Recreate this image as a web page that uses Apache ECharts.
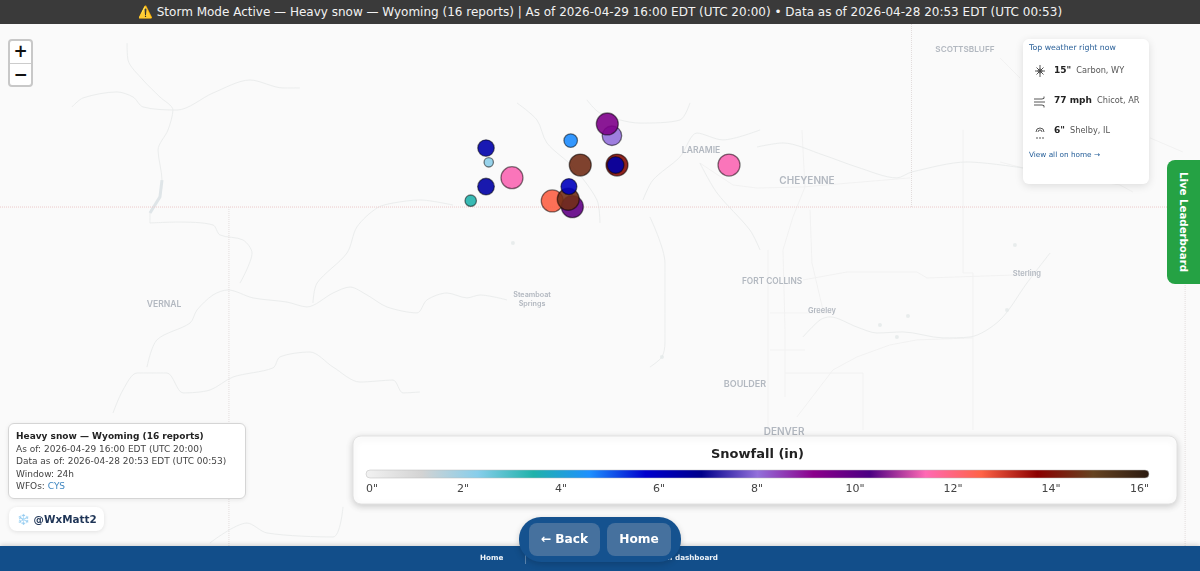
<!DOCTYPE html>
<html>
<head>
<meta charset="utf-8">
<title>Heavy snow - Wyoming</title>
<script src="https://cdn.jsdelivr.net/npm/echarts@6/dist/echarts.min.js"></script>
<style>
	html, body { margin: 0; padding: 0; width: 1200px; height: 571px; overflow: hidden; background: #fafafa; font-family: "DejaVu Sans", sans-serif; }
	#map { position: absolute; left: 0; top: 0; width: 1200px; height: 571px; }
	.banner { position: absolute; left: 0; top: 0; width: 1200px; height: 24px; line-height: 24px; background: #3a3a3a; color: #f2f2f2; font-size: 12px; text-align: center; white-space: nowrap; }
	.zoom { position: absolute; left: 8px; top: 39px; width: 21px; height: 44px; border: 2px solid #c8c8c8; border-radius: 4px; background: #fff; }
	.zoom div { height: 22px; line-height: 21px; text-align: center; font-size: 17px; font-weight: bold; color: #111; }
	.zoom div + div { height: 21px; border-top: 1px solid #ccc; }
	.info { position: absolute; left: 8px; top: 423px; width: 221px; height: 63px; padding: 6px 8px 5px 7px; background: #fff; border: 1px solid #d5d5d5; border-radius: 6px; box-shadow: 0 1px 4px rgba(0,0,0,.08); font-size: 9px; line-height: 12.5px; color: #444; white-space: nowrap; }
	.info b { color: #222; }
	.info a { color: #3f86c0; }
	.handle { position: absolute; left: 9px; top: 507px; width: 95px; height: 24px; line-height: 24px; background: #fff; border-radius: 8px; box-shadow: 0 1px 4px rgba(0,0,0,.1); font-size: 10.4px; font-weight: bold; color: #1f3557; white-space: nowrap; text-indent: 8px; }
	.handle span { color: #9fd0ee; }
	.topbox { position: absolute; left: 1023px; top: 39px; width: 126px; height: 145px; background: #fff; border-radius: 6px; box-shadow: 0 2px 8px rgba(0,0,0,.12); color: #222; white-space: nowrap; }
	.topbox .head { position: absolute; left: 6px; top: 4px; font-size: 7.8px; color: #2a6099; }
	.topbox .row { position: absolute; left: 31px; font-size: 9px; font-weight: bold; }
	.topbox .row span { font-size: 8.2px; font-weight: normal; color: #555; margin-left: 2px; }
	.topbox svg { position: absolute; left: 10px; width: 14px; height: 16px; fill: none; stroke: #444; stroke-width: .9; }
	.topbox .more { position: absolute; left: 6px; top: 111px; font-size: 7.3px; color: #1f5a96; }
	.live { position: absolute; left: 1167px; top: 160px; width: 33px; height: 124px; background: #25a244; border-radius: 8px 0 0 8px; color: #fff; font-size: 10.2px; font-weight: bold; writing-mode: vertical-rl; text-align: center; line-height: 34px; white-space: nowrap; }
	.footer { position: absolute; left: 0; top: 546px; width: 1200px; height: 25px; background: #124e8a; box-shadow: 0 -1px 5px rgba(0,0,0,.18); color: #eef3f8; font-size: 7.2px; font-weight: bold; }
	.footer span { position: absolute; top: 7px; white-space: nowrap; }
	.footer i { position: absolute; left: 525px; top: 7px; width: 1px; height: 11px; background: #5a84ae; }
	.nav { position: absolute; left: 519px; top: 517px; width: 162px; height: 45px; background: #15528f; border-radius: 22px; box-shadow: 0 2px 6px rgba(0,0,0,.18); }
	.nav div { position: absolute; top: 6px; height: 33px; line-height: 33px; background: #46719e; border-radius: 8px; color: #fff; font-size: 12.2px; font-weight: bold; text-align: center; }
</style>
</head>
<body>
<div id="map"></div>
<div class="banner">⚠️ Storm Mode Active — Heavy snow — Wyoming (16 reports) | As of 2026-04-29 16:00 EDT (UTC 20:00) • Data as of 2026-04-28 20:53 EDT (UTC 00:53)</div>
<div class="zoom"><div>+</div><div>−</div></div>
<div class="info"><b>Heavy snow — Wyoming (16 reports)</b><br>As of: 2026-04-29 16:00 EDT (UTC 20:00)<br>Data as of: 2026-04-28 20:53 EDT (UTC 00:53)<br>Window: 24h<br>WFOs: <a>CYS</a></div>
<div class="handle"><span>❄️</span> @WxMatt2</div>
<div class="topbox">
	<div class="head">Top weather right now</div>
	<svg style="top:24px" viewBox="0 0 14 16"><path d="M7 2v12M2 8h10M3.500 4.500l7 7M10.500 4.500l-7 7M5 8a2 2 0 1 0 4 0a2 2 0 1 0-4 0"/></svg>
	<div class="row" style="top:26px">15" <span>Carbon, WY</span></div>
	<svg style="top:55px" viewBox="0 0 14 16"><path d="M1 5h8q3 0 2-2.500M1 8h11M1 11h8q3 0 2 2.500"/></svg>
	<div class="row" style="top:56px">77 mph <span>Chicot, AR</span></div>
	<svg style="top:85px" viewBox="0 0 14 16"><path d="M3 8a4 4 0 0 1 8 0M5 8a2 2 0 0 1 4 0M4 13v2M7 13v2M10 13v2"/></svg>
	<div class="row" style="top:86px">6" <span>Shelby, IL</span></div>
	<div class="more">View all on home →</div>
</div>
<div class="live">Live Leaderboard</div>
<div class="footer"><span style="left:480px">Home</span><i></i><span style="right:482px">Admin dashboard</span></div>
<div class="nav"><div style="left:10px;width:71px">← Back</div><div style="left:88px;width:64px">Home</div></div>

<script>
// snow reports, in drawing order: longitude, latitude, inches
const reportLon = [-107.168, -107.148, -107.168, -107.280, -106.978, -106.548, -106.478, -106.209, -106.219, -106.246, -106.280, -105.389, -106.683, -106.536, -106.566, -106.561];
const reportLat = [41.326, 41.247, 41.113, 41.035, 41.162, 41.367, 41.232, 41.232, 41.232, 41.394, 41.459, 41.232, 41.034, 41.002, 41.043, 41.113];
const reportInches = [6.3, 2.2, 6.4, 3.4, 11.4, 4.6, 14.5, 13.9, 6.4, 8, 9.4, 11.4, 12.6, 9.9, 14.5, 6];

// snowfall colour scale, evenly spread from 0 to 16 inches
const legendColors = ['#f2f2f2', '#d3d3d3', '#87ceeb', '#20b2aa', '#1e90ff', '#0000cd', '#00008b', '#9370db', '#8b008b', '#4b0082', '#ff69b4', '#ff6347', '#8b0000', '#654321', '#2b1a10'];
const legendTicks = ['0"', '2"', '4"', '6"', '8"', '10"', '12"', '14"', '16"'];
const legendTickX = [366, 463, 561, 659, 757, 855, 953, 1051, 1149];

const cityNames = ['SCOTTSBLUFF', 'LARAMIE', 'CHEYENNE', 'VERNAL', 'Steamboat\nSprings', 'FORT COLLINS', 'Greeley', 'Sterling', 'BOULDER', 'DENVER'];
const cityLon = [-103.662, -105.594, -104.818, -109.525, -106.831, -105.074, -104.709, -103.208, -105.272, -104.986];
const cityLat = [41.868, 41.315, 41.144, 40.464, 40.492, 40.591, 40.426, 40.630, 40.022, 39.757];
const cityFontSize = [8.2, 8.6, 10, 8.6, 7.2, 8.3, 7.5, 7.5, 9, 10];

const lakeLon = [-104.284, -104.079, -104.160, -103.296, -105.880, -103.354, -106.971];
const lakeLat = [40.348, 40.398, 40.282, 40.790, 40.172, 40.431, 40.801];

// state lines
const wyColoradoLine = [[-110.726, 41], [-101.941, 41]];
const utahColoradoLine = [[-109.05, 41], [-109.05, 38.989]];
const wyNebraskaLine = [[-104.053, 42.144], [-104.053, 41]];
const coNebraskaLine = [[-102.05, 41], [-102.05, 38.989]];

// rivers
const yampaRiver = [[-109.650, 40.116], [-109.577, 40.266], [-109.335, 40.359], [-109.284, 40.431], [-109.167, 40.514], [-109.057, 40.542], [-108.874, 40.498], [-108.625, 40.475], [-108.479, 40.448], [-108.288, 40.525], [-108.164, 40.558], [-108.039, 40.514], [-107.893, 40.448], [-107.673, 40.415], [-107.600, 40.487], [-107.454, 40.525], [-107.307, 40.498], [-107.212, 40.514], [-107.015, 40.487]];
const whiteRiver = [[-109.899, 39.862], [-109.826, 39.989], [-109.723, 40.083], [-109.504, 40.083], [-109.386, 39.973], [-109.189, 39.989], [-109.020, 40.061], [-108.728, 40.111], [-108.676, 40.172], [-108.457, 40.199], [-108.288, 40.116], [-108.091, 40.033], [-107.849, 40.044], [-107.776, 39.973], [-107.652, 39.978]];
const littleSnakeRiver = [[-108.435, 40.470], [-108.405, 40.580], [-108.186, 40.746], [-108.113, 40.890], [-107.966, 40.995], [-107.849, 41.022], [-107.652, 41.039], [-107.410, 41.011]];
const greenRiver = [[-109.796, 41.906], [-109.789, 41.813], [-109.679, 41.702], [-109.555, 41.608], [-109.460, 41.536], [-109.496, 41.426], [-109.569, 41.315], [-109.540, 41.149], [-109.555, 41.056], [-109.628, 40.967], [-109.628, 40.912], [-109.430, 40.917], [-109.167, 40.901], [-109.116, 40.846], [-108.947, 40.818], [-108.881, 40.746], [-108.969, 40.580]];
const sweetwaterDraw = [[-110.199, 41.553], [-110.118, 41.603], [-109.870, 41.636], [-109.752, 41.608], [-109.679, 41.553], [-109.430, 41.536], [-109.167, 41.630], [-108.896, 41.702], [-108.654, 41.658], [-108.530, 41.658]];
const northPlatte = [[-106.941, 41.575], [-106.795, 41.481], [-106.722, 41.354], [-106.531, 41.221], [-106.356, 41.039], [-106.334, 40.912]];
const medicineBow = [[-106.429, 41.592], [-106.334, 41.520], [-106.041, 41.464], [-105.748, 41.481], [-105.675, 41.575]];
const laramieRiver = [[-105.162, 41.426], [-105.433, 41.371], [-105.624, 41.409], [-105.748, 41.277], [-105.946, 41.149], [-106.019, 41.039]];
const lodgepoleCreek = [[-105.184, 41.332], [-104.994, 41.354], [-104.701, 41.288], [-104.452, 41.221], [-104.160, 41.161], [-104.050, 41.194], [-103.647, 41.249], [-103.237, 41.216]];
const poudreRiver = [[-105.602, 41.243], [-105.477, 41.078], [-105.236, 40.873], [-105.162, 40.763]];
const southPlatte = [[-104.848, 40.282], [-104.723, 40.376], [-104.650, 40.393], [-104.452, 40.337], [-104.306, 40.304], [-104.116, 40.310], [-103.823, 40.277], [-103.625, 40.282], [-103.405, 40.376], [-103.208, 40.580], [-103.039, 40.746]];
const parkRiver = [[-105.968, 40.945], [-105.858, 40.691], [-105.858, 40.249], [-105.880, 40.172], [-105.968, 40.116]];
const southernDrain = [[-109.189, 39.144], [-108.918, 39.254], [-108.771, 39.199], [-108.288, 39.177], [-108.215, 39.343]];
const flamingGorge = [[-109.540, 41.149], [-109.555, 41.056], [-109.628, 40.967]];

// highways
const i25 = [[-104.855, 41.426], [-104.833, 41.111], [-104.921, 40.945], [-104.994, 40.763], [-104.979, 40.321], [-104.979, 39.951]];
const i80 = [[-105.602, 41.243], [-105.360, 41.122], [-105.184, 41.105], [-104.848, 41.111], [-104.064, 41.161]];
const i76 = [[-104.892, 39.840], [-104.628, 40.100], [-104.452, 40.172], [-104.211, 40.238], [-104.013, 40.266], [-103.603, 40.277]];
const us34 = [[-104.848, 40.597], [-104.526, 40.641], [-104.013, 40.641], [-103.940, 40.608], [-103.281, 40.625]];
const us85 = [[-104.796, 40.984], [-104.782, 40.691], [-104.701, 40.431]];
const countyRoad = [[-103.676, 41.426], [-103.676, 40.636], [-103.603, 40.636], [-103.603, 39.768]];
const panhandleRoad = [[-103.405, 41.824], [-103.259, 41.713]];
const panhandleRoad2 = [[-102.307, 41.382], [-102.066, 41.304]];
const panhandleRoad3 = [[-103.405, 41.249], [-103.237, 41.216], [-102.527, 41.122], [-102.432, 41.083]];
const frontRangeWest = [[-105.104, 40.763], [-105.104, 39.768]];
const frontRangeNorth = [[-105.089, 40.415], [-104.613, 40.415]];
const frontRangeSouth = [[-105.089, 40.210], [-104.833, 40.210]];
const denverBox = [[-104.979, 40.083], [-104.408, 40.083], [-104.408, 39.768]];

const stateLines = [wyColoradoLine, wyNebraskaLine, utahColoradoLine, coNebraskaLine];
const riverLines = [yampaRiver, whiteRiver, littleSnakeRiver, greenRiver, sweetwaterDraw, northPlatte, medicineBow, laramieRiver, lodgepoleCreek, poudreRiver, southPlatte, parkRiver, southernDrain];
const roadLines = [i25, i80, i76, us34, us85, countyRoad, panhandleRoad, panhandleRoad2, panhandleRoad3, frontRangeWest, frontRangeNorth, frontRangeSouth, denverBox];

function lineSeries(points, color, width, type, z, smooth) {
	return {
		type: 'line',
		data: points,
		silent: true,
		showSymbol: false,
		animation: false,
		smooth: smooth,
		z: z,
		lineStyle: { color: color, width: width, type: type }
	};
}

function snowSize(value) {
	return Math.min(22, 5.5 + value[2] * 1.75);
}

const chart = echarts.init(document.getElementById('map'));

const legendGraphic = [
	{
		type: 'rect', z: 20,
		shape: { x: 353, y: 436, width: 824, height: 68, r: 8 },
		style: { fill: '#fff', stroke: '#e2e2e2', lineWidth: 1, shadowBlur: 7, shadowOffsetY: 2, shadowColor: 'rgba(0,0,0,.18)' }
	},
	{
		type: 'text', z: 21,
		style: { text: 'Snowfall (in)', x: 757.5, y: 455, align: 'center', verticalAlign: 'middle', font: 'bold 13px "DejaVu Sans"', fill: '#222' }
	},
	{
		type: 'rect', z: 21,
		shape: { x: 366, y: 470, width: 783, height: 8, r: 4 },
		style: {
			stroke: '#bbb',
			lineWidth: .5,
			fill: new echarts.graphic.LinearGradient(0, 0, 1, 0, legendColors.map((color, i) => ({ offset: i / (legendColors.length - 1), color: color })))
		}
	}
].concat(legendTicks.map((tick, i) => ({
	type: 'text', z: 21,
	style: {
		text: tick,
		x: legendTickX[i],
		y: 489,
		align: i === 0 ? 'left' : (i === legendTicks.length - 1 ? 'right' : 'center'),
		verticalAlign: 'middle',
		font: '11px "DejaVu Sans"',
		fill: '#444'
	}
})));

chart.setOption({
	animation: false,
	backgroundColor: '#fafafa',
	grid: { left: 0, right: 0, top: 0, bottom: 0 },
	xAxis: { type: 'value', show: false, min: -110.726, max: -101.941 },
	yAxis: { type: 'value', show: false, min: 38.989, max: 42.144 },
	visualMap: {
		show: false,
		seriesIndex: 0,
		dimension: 2,
		min: 0,
		max: 16,
		inRange: { color: legendColors }
	},
	series: [
		{
			type: 'scatter',
			name: 'Snowfall',
			z: 10,
			symbolSize: snowSize,
			itemStyle: { opacity: .9, borderColor: 'rgba(0,0,0,.55)', borderWidth: 1.3 },
			data: reportLon.map((lon, i) => [lon, reportLat[i], reportInches[i]])
		},
		{
			type: 'scatter',
			silent: true,
			z: 6,
			symbolSize: 1,
			itemStyle: { color: 'transparent' },
			labelLayout: { hideOverlap: false },
			label: {
				show: true,
				position: 'inside',
				formatter: '{b}',
				color: '#a0a8b2',
				fontFamily: 'Inter',
				fontWeight: 600,
				fontSize: 9,
				lineHeight: 9
			},
			data: cityNames.map((name, i) => ({
				name: name,
				value: [cityLon[i], cityLat[i]],
				label: { fontSize: cityFontSize[i] }
			}))
		},
		{
			type: 'scatter',
			silent: true,
			z: 3,
			symbolSize: 4,
			itemStyle: { color: '#e4e8e9' },
			data: lakeLon.map((lon, i) => [lon, lakeLat[i]])
		},
		lineSeries(flamingGorge, '#dfe5e8', 3, 'solid', 3, false)
	]
		.concat(stateLines.map((line, i) => lineSeries(line, i < 1 ? '#ecc9c9' : '#e2dcdc', 1, 'dotted', 4, false)))
		.concat(riverLines.map(line => lineSeries(line, '#ebeded', 1, 'solid', 2, .3)))
		.concat(roadLines.map(line => lineSeries(line, '#f0f0f0', .9, 'solid', 1, false))),
	graphic: legendGraphic
});
</script>
</body>
</html>
